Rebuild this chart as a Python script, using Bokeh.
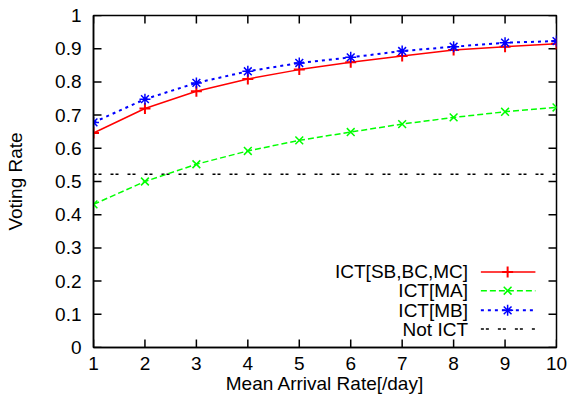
from bokeh.plotting import figure
from bokeh.models import Range1d, FixedTicker, CustomJSTickFormatter, Label
from bokeh.embed import file_html
from bokeh.resources import INLINE

# ---- data ----
arrival_rate = [1, 2, 3, 4, 5, 6, 7, 8, 9, 10]
ict_sb_bc_mc = [0.646, 0.720, 0.772, 0.809, 0.837, 0.859, 0.878, 0.896, 0.906, 0.915]
ict_ma = [0.431, 0.500, 0.552, 0.592, 0.624, 0.649, 0.673, 0.693, 0.710, 0.723]
ict_mb = [0.678, 0.748, 0.797, 0.832, 0.857, 0.874, 0.893, 0.906, 0.918, 0.923]
not_ict = 0.522
x_ticks = [1, 2, 3, 4, 5, 6, 7, 8, 9, 10]
y_ticks = [0, 0.1, 0.2, 0.3, 0.4, 0.5, 0.6, 0.7, 0.8, 0.9, 1.0]
series_labels = ["ICT[SB,BC,MC]", "ICT[MA]", "ICT[MB]", "Not ICT"]

FONT = "Liberation Sans"
FS = "19px"
X0, X1, Y0, Y1 = 1, 10, 0, 1

W, H = 567, 396
BL, BR, BT, BB = 93, 11, 15, 48
p = figure(width=W, height=H, output_backend="svg", toolbar_location=None,
           x_range=Range1d(X0, X1), y_range=Range1d(Y0, Y1),
           min_border_left=BL, min_border_right=BR, min_border_top=BT, min_border_bottom=BB)
p.grid.visible = False
p.outline_line_color = "black"
p.outline_line_width = 1.5
p.background_fill_color = "white"
p.border_fill_color = "white"

fmt = CustomJSTickFormatter(code="return String(Math.round(tick*10)/10);")

def style_axis(ax, ticks):
    ax.ticker = FixedTicker(ticks=ticks)
    ax.formatter = fmt
    ax.major_tick_in = 0
    ax.major_tick_out = 0
    ax.minor_tick_line_color = None
    ax.major_tick_line_color = None
    ax.axis_line_color = "black"
    ax.axis_line_width = 1.5
    ax.major_label_text_font = FONT
    ax.major_label_text_font_size = FS
    ax.major_label_text_color = "black"
    ax.axis_label_text_font = FONT
    ax.axis_label_text_font_size = FS
    ax.axis_label_text_font_style = "normal"
    ax.axis_label_text_color = "black"

xa = p.xaxis[0]
style_axis(xa, x_ticks)
xa.axis_label = "Mean Arrival Rate[/day]"
xa.major_label_standoff = 9
xa.axis_label_standoff = 0

ya = p.yaxis[0]
style_axis(ya, y_ticks)
ya.axis_label = "Voting Rate"
ya.major_label_standoff = 12
ya.axis_label_standoff = 26

# inward tick marks (8 px) on all four sides, drawn as segments
TICK_PX = 8
fw, fh = W - BL - BR, H - BT - BB
tx = TICK_PX * (X1 - X0) / fw
ty = TICK_PX * (Y1 - Y0) / fh
nx, ny = len(x_ticks), len(y_ticks)
tick_style = dict(line_color="black", line_width=1.5)
p.segment(x0=x_ticks, y0=[Y0] * nx, x1=x_ticks, y1=[Y0 + ty] * nx, **tick_style)
p.segment(x0=x_ticks, y0=[Y1] * nx, x1=x_ticks, y1=[Y1 - ty] * nx, **tick_style)
p.segment(x0=[X0] * ny, y0=y_ticks, x1=[X0 + tx] * ny, y1=y_ticks, **tick_style)
p.segment(x0=[X1] * ny, y0=y_ticks, x1=[X1 - tx] * ny, y1=y_ticks, **tick_style)

# ---- series ----
RED, GREEN, BLUE = "#ff0000", "#00ff00", "#0000ff"
p.line(arrival_rate, [not_ict] * len(arrival_rate), line_color="black", line_width=1.5, line_dash="3 2 3 9")
p.line(arrival_rate, ict_ma, line_color=GREEN, line_width=1.5, line_dash="6 3")
p.scatter(arrival_rate, ict_ma, marker="x", size=11, line_color=GREEN, line_width=1.5)
p.line(arrival_rate, ict_sb_bc_mc, line_color=RED, line_width=1.5)
p.scatter(arrival_rate, ict_sb_bc_mc, marker="cross", size=11, line_color=RED, line_width=2)
p.line(arrival_rate, ict_mb, line_color=BLUE, line_width=2, line_dash="3 4")
p.scatter(arrival_rate, ict_mb, marker="asterisk", size=11, line_color=BLUE, line_width=1.5)

# ---- legend (gnuplot style: right-aligned label, then sample) ----
LEG_TEXT_X = 8.28
LEG_X0, LEG_X1, LEG_MX = 8.53, 9.59, 9.05
LEG_Y = [0.2276, 0.171, 0.112, 0.0555]
styles = [
    dict(color=RED, dash="solid", width=1.5, marker="cross", mw=2),
    dict(color=GREEN, dash="6 3", width=1.5, marker="x", mw=1.5),
    dict(color=BLUE, dash="3 4", width=2, marker="asterisk", mw=1.5),
    dict(color="black", dash="3 2 3 9", width=1.5, marker=None, mw=0),
]
for lbl, yy, st in zip(series_labels, LEG_Y, styles):
    p.add_layout(Label(x=LEG_TEXT_X, y=yy, text=lbl, text_align="right", text_baseline="middle",
                       text_font=FONT, text_font_size=FS, text_color="black"))
    p.line([LEG_X0, LEG_X1], [yy, yy], line_color=st["color"], line_width=st["width"], line_dash=st["dash"])
    if st["marker"]:
        p.scatter([LEG_MX], [yy], marker=st["marker"], size=11, line_color=st["color"], line_width=st["mw"])

open("out.html", "w").write(file_html(p, INLINE))
